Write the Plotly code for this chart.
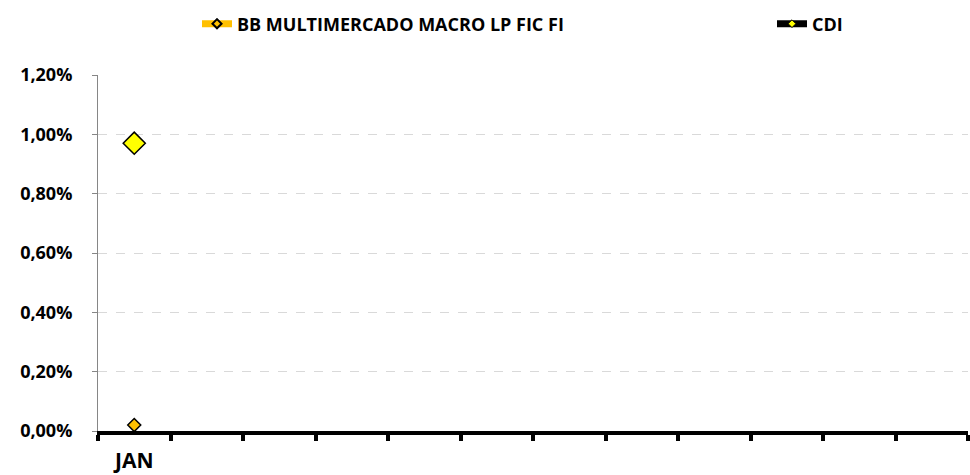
import plotly.graph_objects as go

months = ["JAN", " ", "  ", "   ", "    ", "     ", "      ", "       ", "        ", "         ", "          ", "           "]
fund_name = "BB MULTIMERCADO MACRO LP FIC FI"
fund_values = [0.02] + [None] * 11
cdi_name = "CDI"
cdi_values = [0.97] + [None] * 11
y_ticks = [0, 0.2, 0.4, 0.6, 0.8, 1.0, 1.2]
y_ticktext = [f"{v:.2f}%".replace(".", ",") for v in y_ticks]

FONT = "Open Sans, sans-serif"
FUND_COLOR = "#FFC000"
CDI_MARKER = "#FFFF00"

W, H = 970, 475

fig = go.Figure()
# data marks
fig.add_trace(go.Scatter(
    x=months, y=fund_values, name=fund_name, mode="markers", showlegend=False,
    marker=dict(symbol="diamond", size=10, color=FUND_COLOR, line=dict(color="black", width=1.5)),
))
fig.add_trace(go.Scatter(
    x=months, y=cdi_values, name=cdi_name, mode="markers", showlegend=False,
    marker=dict(symbol="diamond", size=17, color=CDI_MARKER, line=dict(color="black", width=1.5)),
))
# legend entries
fig.add_trace(go.Scatter(
    x=[None], y=[None], name=fund_name, mode="lines+markers", legend="legend",
    line=dict(color=FUND_COLOR, width=7),
    marker=dict(symbol="diamond", size=7, color=FUND_COLOR, line=dict(color="black", width=2)),
))
fig.add_trace(go.Scatter(
    x=[None], y=[None], name=cdi_name, mode="lines+markers", legend="legend2",
    line=dict(color="black", width=7),
    marker=dict(symbol="diamond", size=6, color=CDI_MARKER, line=dict(color="black", width=1)),
))

legend_common = dict(
    orientation="h", xref="container", yref="container", xanchor="left",
    yanchor="middle", y=1 - 24 / H,
    font=dict(family=FONT, size=18, color="black", weight="bold"),
    bgcolor="rgba(0,0,0,0)", itemwidth=30,
)

fig.update_layout(
    width=W, height=H,
    margin=dict(l=98, r=2, t=75, b=44, autoexpand=False),
    plot_bgcolor="white", paper_bgcolor="white",
    font=dict(family=FONT, color="black", size=14, weight="bold"),
    showlegend=True,
    legend=dict(x=197 / W, **legend_common),
    legend2=dict(x=772 / W, **legend_common),
)
fig.update_xaxes(
    type="category", categoryorder="array", categoryarray=months,
    range=[-0.5, 11.5], tickson="boundaries", tickangle=0,
    ticks="outside", ticklen=6, tickwidth=4, tickcolor="black",
    showline=True, linecolor="black", linewidth=4,
    showgrid=False, zeroline=False, automargin=False,
    tickfont=dict(family=FONT, size=21, color="black", weight="bold"),
    ticklabelstandoff=8,
)
fig.update_yaxes(
    range=[0, 1.2], tickvals=y_ticks, ticktext=y_ticktext,
    ticks="outside", ticklen=5, tickcolor="#868686", tickwidth=1,
    showline=True, linecolor="#868686", linewidth=1,
    showgrid=True, gridcolor="#D9D9D9", griddash="dash", gridwidth=1,
    zeroline=False, automargin=False,
    tickfont=dict(family=FONT, size=18, color="black", weight="bold"),
    ticklabelstandoff=16,
)

fig.write_html(
    "out.html",
    config={"displayModeBar": False},
    post_script="document.body.style.margin='0';document.body.style.overflow='hidden';",
)
